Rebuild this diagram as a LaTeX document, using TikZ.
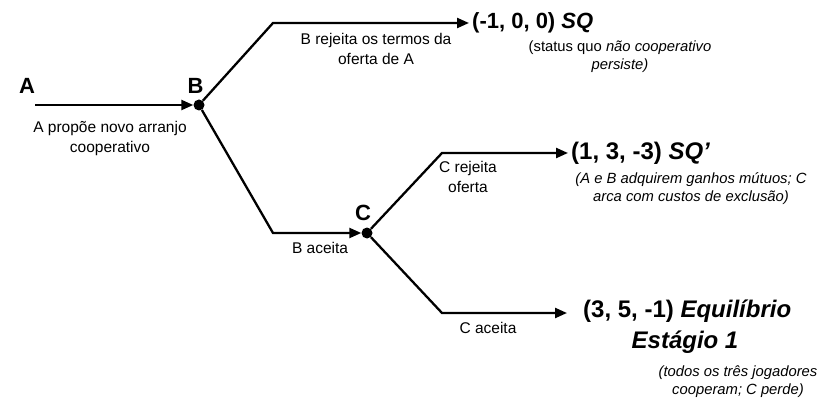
\documentclass[tikz,border=0pt]{standalone}
\usepackage{fontspec}
\setmainfont{Liberation Sans}
\usetikzlibrary{arrows.meta}
\begin{document}
\begin{tikzpicture}[x=1pt,y=-1pt,
  seg/.style={line width=2.3pt, line join=miter},
  branch/.style={seg, -{Triangle[length=12pt,width=10pt]}},
  dot/.style={circle, fill, inner sep=0pt, minimum size=11pt},
  player/.style={font=\fontsize{22}{22}\selectfont\bfseries, inner sep=0pt},
  lbl/.style={font=\fontsize{15.5}{20}\selectfont, align=center, inner sep=0pt},
  pay/.style={font=\fontsize{22}{26}\selectfont\bfseries, inner sep=0pt, anchor=west},
  bigpay/.style={font=\fontsize{24}{31}\selectfont\bfseries, inner sep=0pt},
  note/.style={font=\fontsize{14.8}{18}\selectfont\itshape, align=center, inner sep=0pt},
]
\useasboundingbox (0,0) rectangle (827,398);

% players and decision points
\coordinate (a0) at (35,105);
\node[dot] (B) at (199,105) {};
\node[dot] (C) at (367,233) {};
\node[player] (Alab) at (27,86) {A};
\node[player] (Blab) at (195.5,86) {B};
\node[player] (Clab) at (363,213) {C};

% corners
\coordinate (b1) at (273,23);
\coordinate (b2) at (273,233);
\coordinate (c1) at (442,153);
\coordinate (c2) at (442,313);

% payoffs
\node[pay] (p1) at (472,23) {(-1, 0, 0) \textit{SQ}};
\node[pay, font=\fontsize{24}{26}\selectfont\bfseries] (p2) at (571,153) {(1, 3, -3) \textit{SQ’}};
\node[bigpay, anchor=base west] (p3) at (583,317) {(3, 5, -1) \textit{Equilíbrio}};
\node[bigpay, anchor=base] (p3b) at (685,348) {\textit{Estágio 1}};

% notes
\node[note] (n1) at (620,57) {\upshape(status quo \itshape não cooperativo\\persiste)};
\node[note] (n2) at (691,188.5) {(A e B adquirem ganhos mútuos; C\\arca com custos de exclusão)};
\node[note] (n3) at (738,381.5) {(todos os três jogadores\\cooperam; C perde)};

% edge labels
\node[lbl] (l0) at (110,138) {A propõe novo arranjo\\cooperativo};
\node[lbl] (l1) at (376,49) {B rejeita os termos da\\oferta de A};
\node[lbl] (l2) at (320,248) {B aceita};
\node[lbl] (l3) at (468,177) {C rejeita\\oferta};
\node[lbl] (l4) at (488,328) {C aceita};

% connectors
\draw[branch] (a0) -- (B);
\draw[branch] (B) -- (b1) -- ([xshift=-3pt]p1.west);
\draw[branch] (B) -- (b2) -- (C);
\draw[branch] (C) -- (c1) -- ([xshift=-3pt]p2.west);
\coordinate (p3in) at ([xshift=-16pt]p3.west |- c2);
\draw[branch] (C) -- (c2) -- (p3in);
\end{tikzpicture}
\end{document}
